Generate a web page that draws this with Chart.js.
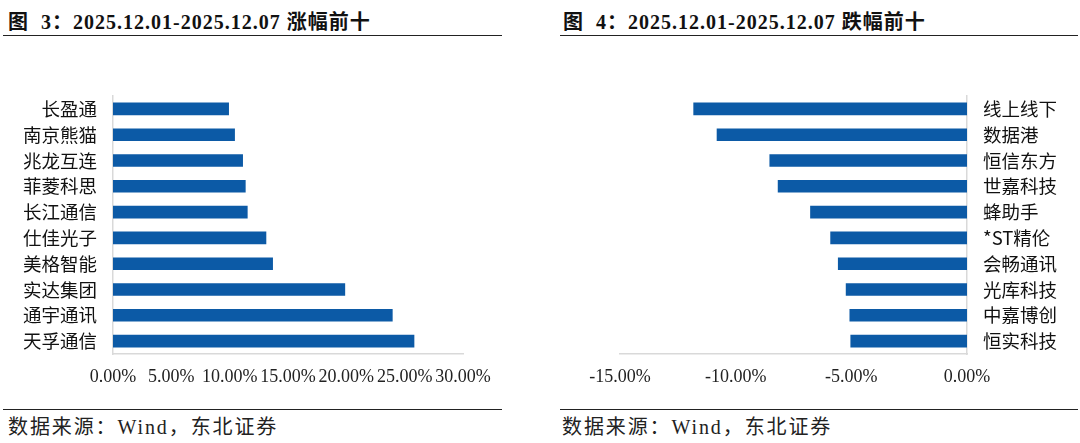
<!DOCTYPE html>
<html>
<head>
<meta charset="utf-8">
<script src="https://cdn.jsdelivr.net/npm/chart.js@4/dist/chart.umd.min.js"></script>
<style>
  body { margin: 0; width: 1080px; height: 443px; background: #fff; position: relative; overflow: hidden; }
  .title { position: absolute; top: 6px; font: bold 20px "Liberation Serif", "Noto Sans CJK SC", serif; color: #111; letter-spacing: 1px; white-space: nowrap; }
  .rule { position: absolute; height: 0; border-top: 1.5px solid #222; }
  .source { position: absolute; top: 411px; font: 20px "Liberation Serif", "Noto Sans CJK SC", serif; color: #222; letter-spacing: 1.9px; white-space: nowrap; }
  canvas { position: absolute; }
</style>
</head>
<body>
<div class="title" style="left:8px">图&nbsp;&nbsp;3：2025.12.01-2025.12.07 涨幅前十</div>
<div class="rule" style="left:3px; width:499px; top:35px"></div>
<div class="title" style="left:563px">图&nbsp;&nbsp;4：2025.12.01-2025.12.07 跌幅前十</div>
<div class="rule" style="left:560px; width:518px; top:35px"></div>

<div style="position:absolute; left:0; top:40px; width:520px; height:360px"><canvas id="upChart"></canvas></div>
<div style="position:absolute; left:540px; top:40px; width:540px; height:360px"><canvas id="downChart"></canvas></div>

<div class="rule" style="left:3px; width:499px; top:409px"></div>
<div class="source" style="left:8px">数据来源：Wind，东北证券</div>
<div class="rule" style="left:560px; width:518px; top:409px"></div>
<div class="source" style="left:562px">数据来源：Wind，东北证券</div>

<script>
// 涨幅前十 (%)
const upNames = ['长盈通', '南京熊猫', '兆龙互连', '菲菱科思', '长江通信', '仕佳光子', '美格智能', '实达集团', '通宇通讯', '天孚通信'];
const upValues = [9.94, 10.45, 11.14, 11.37, 11.54, 13.14, 13.71, 19.90, 23.97, 25.83];
const upTicks = [0, 5, 10, 15, 20, 25, 30];

// 跌幅前十 (%)
const downNames = ['线上线下', '数据港', '恒信东方', '世嘉科技', '蜂助手', '*ST精伦', '会畅通讯', '光库科技', '中嘉博创', '恒实科技'];
const downValues = [-11.83, -10.82, -8.54, -8.18, -6.78, -5.91, -5.58, -5.24, -5.08, -5.04];
const downTicks = [-15, -10, -5, 0];

const barColor = '#0c5aa6';
const axisColor = '#d9d9d9';
const pct = v => v.toFixed(2) + '%';

function makeChart(id, names, values, ticks, onRight) {
    const ctx = document.getElementById(id).getContext('2d');
    return new Chart(ctx, {
        type: 'bar',
        data: {
            labels: names,
            datasets: [{
                data: values,
                backgroundColor: barColor,
                borderWidth: 0,
                categoryPercentage: 1,
                barPercentage: 0.49
            }]
        },
        options: {
            indexAxis: 'y',
            responsive: true,
            maintainAspectRatio: false,
            animation: false,
            layout: {
                padding: onRight
                    ? { top: 56, left: 80, right: 0, bottom: 0 }
                    : { top: 56, left: 0, right: 57, bottom: 0 }
            },
            scales: {
                x: {
                    min: ticks[0],
                    max: ticks[ticks.length - 1],
                    afterBuildTicks: s => { s.ticks = ticks.map(v => ({ value: v })); },
                    afterFit: s => { s.height = 46; },
                    grid: { display: false, drawTicks: false },
                    border: { display: true, color: axisColor, width: 1.5 },
                    ticks: {
                        padding: 12,
                        color: '#222',
                        maxRotation: 0,
                        autoSkip: false,
                        font: { family: 'Liberation Serif', size: 18 },
                        callback: v => pct(v)
                    }
                },
                y: {
                    position: onRight ? 'right' : 'left',
                    afterFit: s => { s.width = 113; },
                    grid: { display: false, drawTicks: false },
                    border: { display: true, color: axisColor, width: 1.5 },
                    ticks: {
                        padding: 16,
                        color: '#111',
                        font: { family: 'Noto Sans CJK SC', size: 18.5 }
                    }
                }
            },
            plugins: {
                legend: { display: false },
                tooltip: { enabled: false }
            }
        }
    });
}

makeChart('upChart', upNames, upValues, upTicks, false);
makeChart('downChart', downNames, downValues, downTicks, true);
</script>
</body>
</html>
